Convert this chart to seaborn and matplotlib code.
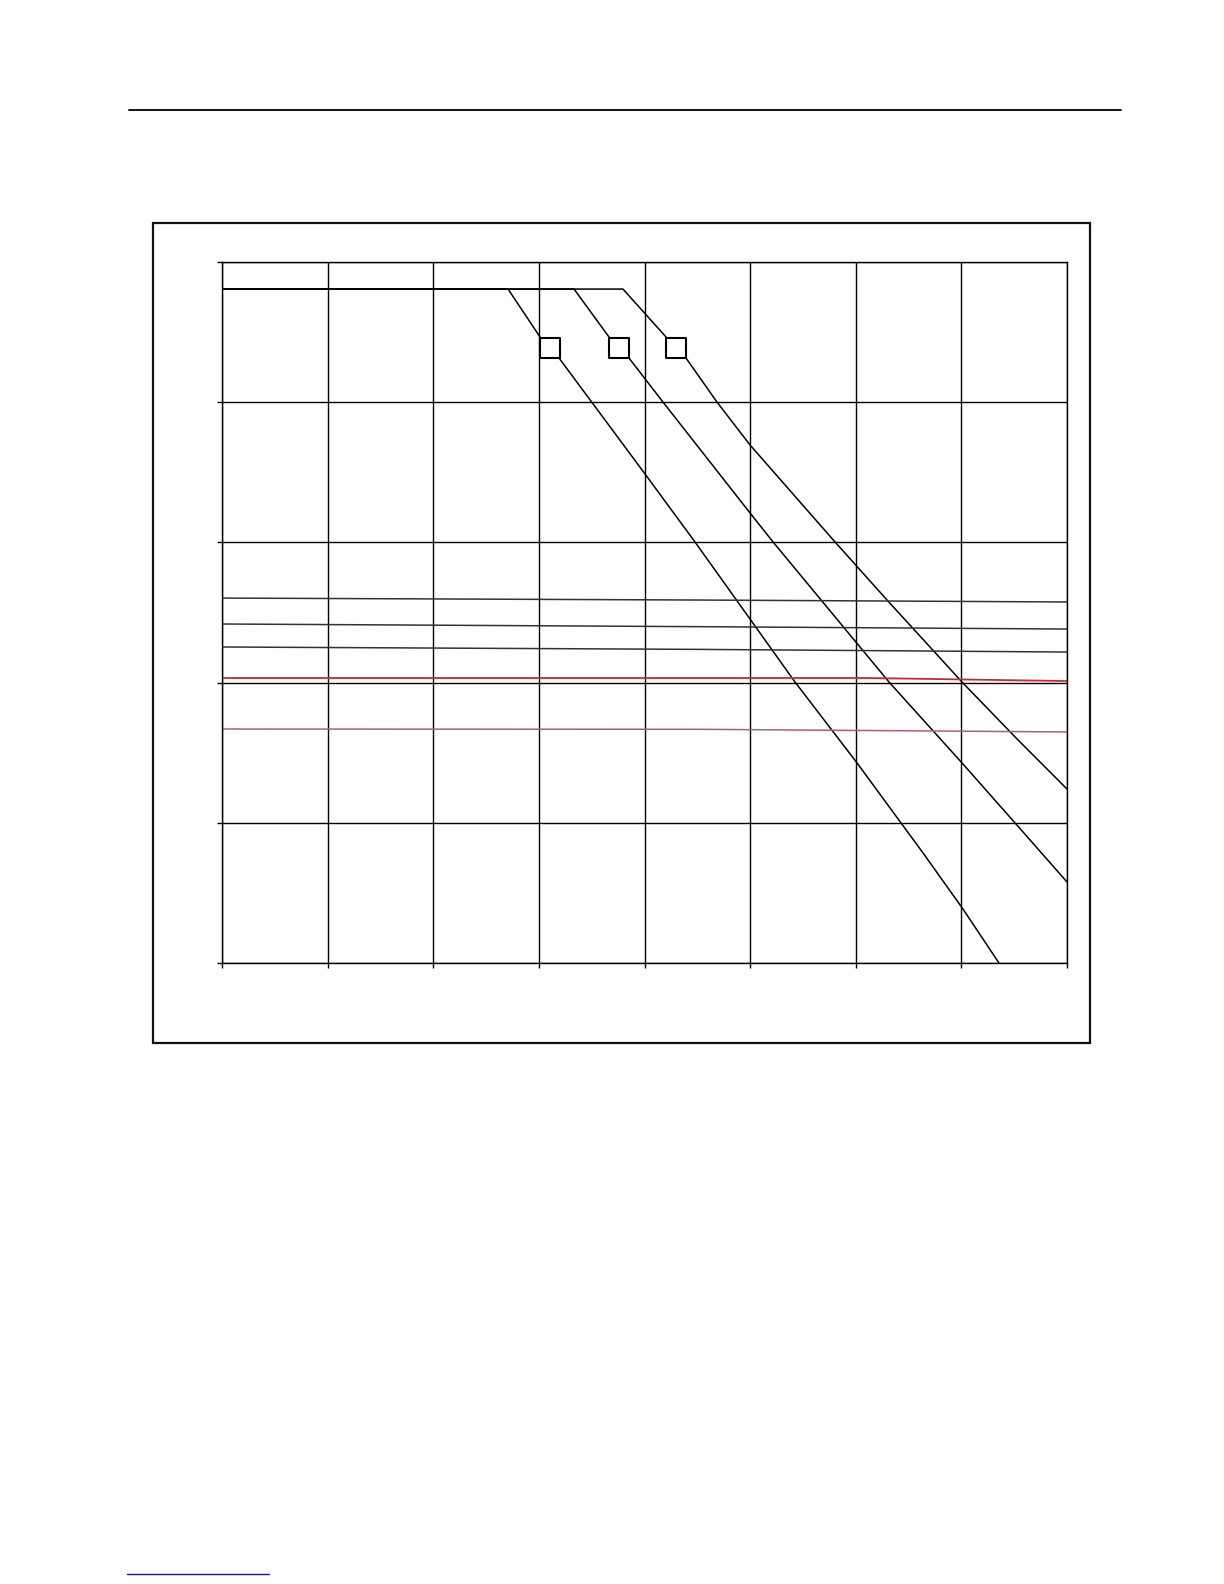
import numpy as np
import pandas as pd
import matplotlib.pyplot as plt
import seaborn as sns
from matplotlib.patches import Rectangle
from matplotlib.lines import Line2D

sns.set_style("white")
plt.rcParams["font.family"] = ["DejaVu Sans"]

# positions in decades (x: 0..8, y: 0..5)
top_level = 4.807

curve1_x = [0.0, 2.708, 3.011]
curve1_y = [top_level, top_level, 4.465]
curve1_low_x = [3.191, 4.005, 4.478, 5.425, 6.012, 6.637, 7.015, 7.356]
curve1_low_y = [4.315, 3.488, 3.003, 2.004, 1.427, 0.785, 0.385, 0.0]

curve2_x = [0.0, 3.333, 3.664]
curve2_y = [top_level, top_level, 4.465]
curve2_low_x = [3.853, 4.175, 4.999, 5.217, 6.315, 7.006, 7.508, 8.0]
curve2_low_y = [4.315, 4.001, 3.210, 3.003, 2.004, 1.427, 0.999, 0.578]

curve3_x = [0.0, 3.796, 4.204]
curve3_y = [top_level, top_level, 4.465]
curve3_low_x = [4.393, 4.686, 4.999, 5.804, 6.296, 7.006, 7.536, 8.0]
curve3_low_y = [4.315, 4.001, 3.695, 3.003, 2.589, 2.004, 1.591, 1.241]

flat_x = [0.0, 4.5, 8.0]
flat_a = [2.603, 2.589, 2.575]
flat_b = [2.418, 2.399, 2.382]
flat_c = [2.254, 2.237, 2.218]
red_x = [0.0, 6.1, 8.0]
red_y = [2.033, 2.033, 2.011]
pink_y = [1.669, 1.667, 1.648]

box_x = [3.101, 3.759, 4.299]
box_y = [4.390, 4.390, 4.390]

fig = plt.figure(figsize=(12.24, 15.84), dpi=100)
ax = fig.add_axes([222 / 1224, 1 - 963 / 1584, 845 / 1224, 701 / 1584])


def line(xs, ys, color="black", lw=1.1):
    sns.lineplot(x=xs, y=ys, ax=ax, color=color, linewidth=lw,
                 sort=False, estimator=None)


for xs, ys in [(curve1_x, curve1_y), (curve1_low_x, curve1_low_y),
               (curve2_x, curve2_y), (curve2_low_x, curve2_low_y),
               (curve3_x, curve3_y), (curve3_low_x, curve3_low_y)]:
    line(xs, ys)

line(flat_x, flat_a, color="#333333")
line(flat_x, flat_b, color="#333333")
line(flat_x, flat_c, color="#333333")
line(red_x, red_y, color="#cc2a2a", lw=1.3)
line(flat_x, pink_y, color="#b25c7c", lw=1.1)

sns.scatterplot(x=box_x, y=box_y, ax=ax, marker="s", s=190,
                facecolor="white", edgecolor="black", linewidth=1.5, zorder=5)

ax.set_xlim(0, 8)
ax.set_ylim(0, 5)
ax.set_xticks(np.arange(0, 9))
ax.set_yticks(np.arange(0, 6))
ax.grid(True, color="black", linewidth=1.0)
ax.set_axisbelow(True)
for s in ax.spines.values():
    s.set_visible(True)
    s.set_color("black")
    s.set_linewidth(1.0)
ax.tick_params(axis="both", direction="out", length=3.8, width=1.0,
               color="black", labelleft=False, labelbottom=False,
               left=True, bottom=True, top=False, right=False)
ax.set_xlabel("")
ax.set_ylabel("")

# page decorations: outer frame, header rule, footer link underline
fig.add_artist(Rectangle((153 / 1224, 1 - 1043 / 1584), 937 / 1224, 820 / 1584,
                         transform=fig.transFigure, fill=False,
                         edgecolor="#111111", linewidth=1.6))
fig.add_artist(Line2D([129 / 1224, 1121 / 1224], [1 - 110 / 1584] * 2,
                      transform=fig.transFigure, color="black", linewidth=1.3))
fig.add_artist(Line2D([127 / 1224, 269 / 1224], [1 - 1574 / 1584] * 2,
                      transform=fig.transFigure, color="#1a1a99", linewidth=1.0))

fig.savefig("out.png", dpi=100)
